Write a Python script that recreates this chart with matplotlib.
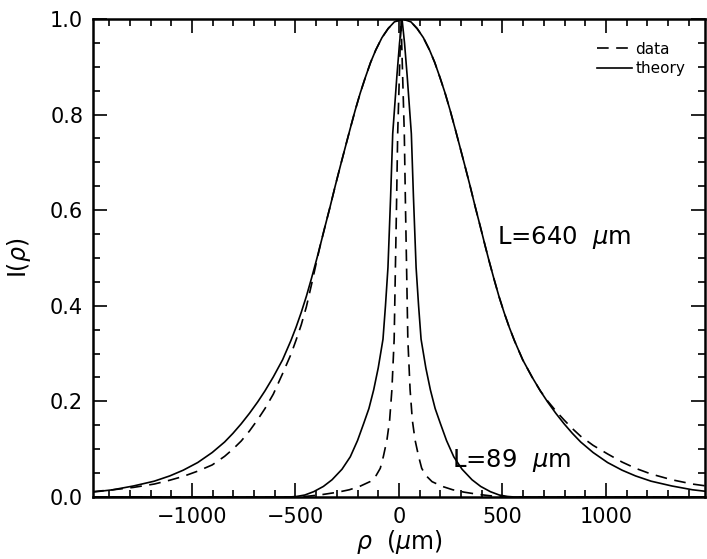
import matplotlib.pyplot as plt
from matplotlib.ticker import MultipleLocator, FormatStrFormatter

plt.rcParams['font.family'] = ['DejaVu Sans']
plt.rcParams['mathtext.fontset'] = 'dejavusans'

# wide profile, L = 640 um (theory)
rho_640_th = [-1482, -1382, -1282, -1182, -1107, -1042, -972, -902, -842, -802,
              -762, -722, -682, -647, -607, -562, -522, -497, -472, -447, -422,
              -397, -382, -357, -332, -307, -282, -262, -237, -212, -187, -162,
              -137, -112, -82, -52, -22, 18,
              58, 88, 118, 148, 173, 198, 223, 248, 273, 298, 318, 343, 368, 393,
              418, 433, 458, 483, 508, 533, 558, 598, 643, 683, 718, 758, 798, 838,
              878, 938, 1008, 1078, 1143, 1218, 1318, 1418, 1518]
I_640_th = [0.010, 0.015, 0.023, 0.033, 0.044, 0.056, 0.072, 0.093, 0.115, 0.133,
            0.153, 0.175, 0.199, 0.222, 0.251, 0.287, 0.327, 0.355, 0.386, 0.420, 0.458,
            0.498, 0.523, 0.566, 0.608, 0.652, 0.694, 0.727, 0.768, 0.808, 0.845, 0.878,
            0.909, 0.935, 0.961, 0.980, 0.994, 1.0,
            0.994, 0.980, 0.961, 0.935, 0.909, 0.878, 0.845, 0.808, 0.768, 0.727, 0.694,
            0.652, 0.608, 0.566, 0.523, 0.498, 0.458, 0.420, 0.386, 0.355, 0.327, 0.287,
            0.251, 0.222, 0.199, 0.175, 0.153, 0.133, 0.115, 0.093, 0.072, 0.056, 0.044,
            0.033, 0.023, 0.015, 0.010]

# wide profile, L = 640 um (data)
rho_640_dat = [-1482, -1382, -1282, -1182, -1107, -1042, -972, -902, -842, -802,
               -762, -722, -682, -647, -607, -562, -522, -497, -472, -447, -422,
               -397, -382, -357, -332, -307, -282, -262, -237, -212, -187, -162,
               -137, -112, -82, -52, -22, 18,
               58, 88, 118, 148, 173, 198, 223, 248, 273, 298, 318, 343, 368, 393,
               418, 433, 458, 483, 508, 533, 558, 598, 643, 683, 718, 758, 798, 838,
               878, 938, 1008, 1078, 1143, 1218, 1318, 1418, 1518]
I_640_dat = [0.011, 0.015, 0.020, 0.027, 0.035, 0.043, 0.054, 0.067, 0.085, 0.100,
             0.117, 0.138, 0.162, 0.185, 0.215, 0.258, 0.298, 0.328, 0.360, 0.398, 0.445,
             0.494, 0.523, 0.566, 0.608, 0.652, 0.694, 0.727, 0.768, 0.808, 0.845, 0.878,
             0.909, 0.935, 0.961, 0.980, 0.994, 1.0,
             0.994, 0.980, 0.961, 0.935, 0.909, 0.878, 0.845, 0.808, 0.768, 0.727, 0.694,
             0.652, 0.608, 0.566, 0.523, 0.498, 0.458, 0.420, 0.386, 0.355, 0.327, 0.287,
             0.251, 0.222, 0.201, 0.180, 0.161, 0.143, 0.127, 0.108, 0.090, 0.073, 0.060,
             0.048, 0.036, 0.027, 0.021]

# narrow profile, L = 89 um (theory)
rho_89_th = [-1480, -525, -495, -455, -412, -365, -323, -275, -235, -200, -170,
             -145, -122, -100, -77, -65, -53, -40, -30, -10, 3, 15, 27, 40, 60,
             70, 83, 95, 107, 130, 152, 175, 200, 230, 265, 305, 353, 395, 442,
             485, 525, 555, 1480]
I_89_th = [0.0, 0.0, 0.001, 0.004, 0.011, 0.022, 0.036, 0.058, 0.084, 0.118, 0.154,
           0.185, 0.224, 0.27, 0.33, 0.40, 0.48, 0.63, 0.76, 0.88, 0.95, 1.0, 0.95,
           0.88, 0.76, 0.63, 0.48, 0.40, 0.33, 0.27, 0.224, 0.185, 0.154, 0.118,
           0.084, 0.058, 0.036, 0.022, 0.011, 0.004, 0.001, 0.0, 0.0]

# narrow profile, L = 89 um (data)
rho_89_dat = [-1480, -480, -430, -370, -295, -240, -190, -140, -110, -90, -75,
              -58, -45, -34, -23, -17, -12, -6, 2, 10, 18, 26, 32, 37, 43, 54, 65,
              78, 95, 110, 130, 160, 210, 260, 315, 390, 450, 500, 1480]
I_89_dat = [0.0, 0.0, 0.002, 0.005, 0.010, 0.015, 0.022, 0.032, 0.045, 0.060, 0.085,
            0.119, 0.16, 0.224, 0.33, 0.48, 0.60, 0.76, 0.88, 1.0, 0.88, 0.76, 0.60,
            0.48, 0.33, 0.224, 0.16, 0.119, 0.085, 0.060, 0.045, 0.032, 0.022,
            0.015, 0.010, 0.005, 0.002, 0.0, 0.0]

fig = plt.figure(figsize=(7.07, 5.59), dpi=100)
ax = fig.add_axes([0.1315, 0.111, 0.8655, 0.855])

dash = (0, (7, 4.5))
ax.plot(rho_640_dat, I_640_dat, color='black', lw=1.2, linestyle=dash, label='data')
ax.plot(rho_640_th, I_640_th, color='black', lw=1.2, label='theory')
ax.plot(rho_89_dat, I_89_dat, color='black', lw=1.2, linestyle=dash)
ax.plot(rho_89_th, I_89_th, color='black', lw=1.2)

ax.text(473, 0.542, r'L=640  $\mu$m', fontsize=17.5, va='center', ha='left')
ax.text(256, 0.077, r'L=89  $\mu$m', fontsize=17.5, va='center', ha='left')

ax.set_xlim(-1478, 1478)
ax.set_ylim(0, 1.0)
ax.xaxis.set_major_locator(MultipleLocator(500))
ax.xaxis.set_minor_locator(MultipleLocator(100))
ax.yaxis.set_major_locator(MultipleLocator(0.2))
ax.yaxis.set_minor_locator(MultipleLocator(0.05))
ax.yaxis.set_major_formatter(FormatStrFormatter('%.1f'))
ax.tick_params(which='both', direction='in', top=True, right=True,
               labelsize=15, width=1.2)
ax.tick_params(which='major', length=10, pad=7)
ax.tick_params(which='minor', length=5)
for s in ax.spines.values():
    s.set_linewidth(1.8)

ax.set_xlabel(r'$\rho$  ($\mu$m)', fontsize=17, labelpad=1)
ax.set_ylabel(r'I($\rho$)', fontsize=17, labelpad=12)

ax.legend(loc='upper right', frameon=False, fontsize=11, handlelength=2.3,
          handletextpad=0.2, labelspacing=0.3, borderaxespad=0.3,
          bbox_to_anchor=(0.985, 0.975))

fig.savefig('out.png', dpi=100)
